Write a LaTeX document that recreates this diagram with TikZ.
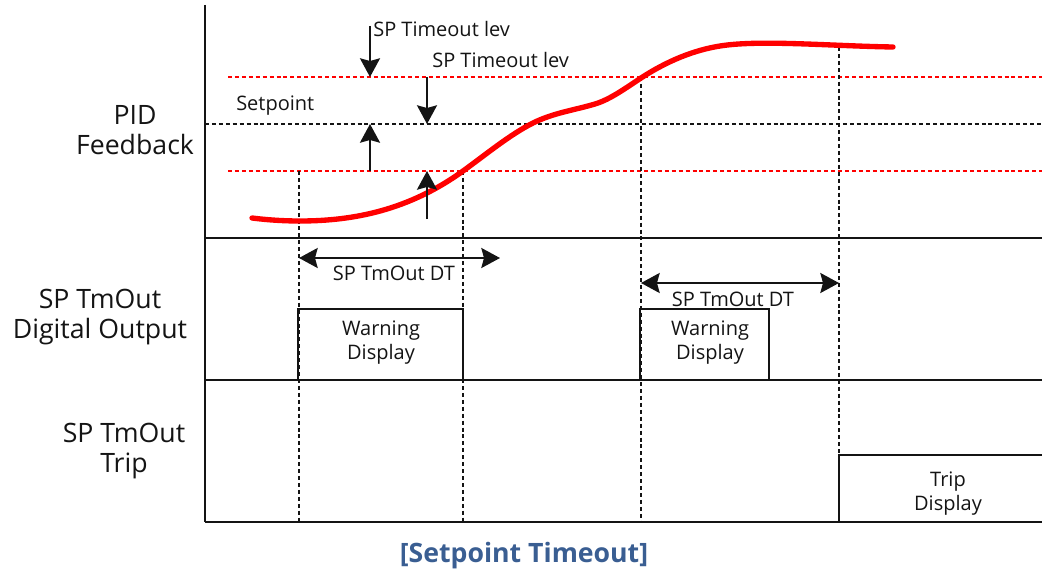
\documentclass[tikz,border=0pt]{standalone}
\usepackage{fontspec}
\setmainfont{Open Sans}
\usetikzlibrary{arrows.meta}
\definecolor{curvered}{RGB}{255,0,0}
\definecolor{titleblue}{RGB}{58,94,146}
\definecolor{ink}{RGB}{20,20,20}
\tikzset{
  axisline/.style={line width=2.1pt, ink},
  redlevel/.style={line width=1.7pt, curvered, dash pattern=on 3pt off 2.2pt},
  splevel/.style={line width=1.7pt, ink, dash pattern=on 3pt off 2.2pt},
  timeline/.style={line width=1.9pt, ink, dash pattern=on 3pt off 2.2pt},
  arr/.style={line width=1.6pt, ink, -{Stealth[length=14pt,width=15pt,inset=2pt]}},
  dblarr/.style={line width=1.6pt, ink, {Stealth[length=14pt,width=15pt,inset=2pt]}-{Stealth[length=14pt,width=15pt,inset=2pt]}},
  biglabel/.style={font=\fontsize{20pt}{23pt}\selectfont, text=ink, align=center, inner sep=0pt},
  smalllabel/.style={font=\fontsize{15pt}{18pt}\selectfont, text=ink, inner sep=0pt},
  pulse/.style={line width=2.1pt, ink},
}
\begin{document}
\begin{tikzpicture}[x=0.75pt, y=-0.75pt]
\useasboundingbox (0,0) rectangle (1042,574);

% frame of the three traces
\coordinate (axtop) at (205,5);
\coordinate (axbot) at (205,522);
\draw[axisline] (axtop) -- (axbot);
\draw[axisline] (205,238) -- (1042,238);
\draw[axisline] (205,380) -- (1042,380);
\draw[axisline] (205,522) -- (1042,522);

% setpoint and timeout levels
\draw[redlevel] (228,77) -- (1042,77);
\draw[splevel] (205,124) -- (1042,124);
\draw[redlevel] (228,171) -- (1042,171);

% time markers
\draw[timeline] (299,171) -- (299,522);
\draw[timeline] (463,171) -- (463,522);
\draw[timeline] (641,77) -- (641,522);
\draw[timeline] (839,47) -- (839,522);

% PID feedback curve, built from tangent-continuous Bezier pieces
\draw[curvered, line width=4pt, line cap=round]
  (252,218) .. controls (268,220) and (284,221) .. (300,221)
            .. controls (354,221) and (409,210) .. (463,171)
            .. controls (486.3,154.2) and (509.7,134.7) .. (533,123)
            .. controls (553.7,112.7) and (574.3,110.2) .. (595,104)
            .. controls (610.3,99.4) and (625.7,88) .. (641,78)
            .. controls (667.3,60.9) and (693.7,50.2) .. (720,46)
            .. controls (760,39.6) and (830,46) .. (893,47);

% timeout level arrows
\coordinate (u1top) at (370,26);
\coordinate (u1tip) at (370,77);
\coordinate (u2top) at (427,77);
\coordinate (u2tip) at (427,124);
\coordinate (l1bot) at (370,171);
\coordinate (l1tip) at (370,124);
\coordinate (l2bot) at (427,219);
\coordinate (l2tip) at (427,171);
\draw[arr] (u1top) -- (u1tip);
\draw[arr] (u2top) -- (u2tip);
\draw[arr] (l1bot) -- (l1tip);
\draw[arr] (l2bot) -- (l2tip);

\node[smalllabel, anchor=west] (lev1) at (373,29) {SP Timeout lev};
\node[smalllabel, anchor=west] (lev2) at (432,60) {SP Timeout lev};
\node[smalllabel, anchor=west] (sp) at (236,106) {Setpoint};

% row titles
\node[biglabel] (pid) at (135,130) {PID\\Feedback};
\node[biglabel] (dout) at (100,317) {SP TmOut\\Digital Output};
\node[biglabel] (trip) at (124,451) {SP TmOut\\Trip};

% delay time spans
\coordinate (dt1a) at (299,258);
\coordinate (dt1b) at (500,258);
\coordinate (dt2a) at (641,283);
\coordinate (dt2b) at (839,283);
\draw[dblarr] (dt1a) -- (dt1b);
\draw[dblarr] (dt2a) -- (dt2b);
\node[smalllabel] (dt1) at (394,273) {SP TmOut DT};
\node[smalllabel] (dt2) at (733,299) {SP TmOut DT};

% digital output pulses
\draw[pulse] (298,380) -- (298,309) -- (463,309) -- (463,380);
\draw[pulse] (640,380) -- (640,309) -- (769,309) -- (769,380);
\node[smalllabel, align=center] (warn1) at (381,343) {Warning\\Display};
\node[smalllabel, align=center] (warn2) at (710,343) {Warning\\Display};

% trip output
\draw[pulse] (839,522) -- (839,455) -- (1042,455);
\node[smalllabel, align=center] (tripd) at (948,494) {Trip\\Display};

% caption
\node[font=\fontsize{20pt}{24pt}\selectfont\bfseries, text=titleblue, inner sep=0pt] (caption) at (524,556) {[Setpoint Timeout]};
\end{tikzpicture}
\end{document}
